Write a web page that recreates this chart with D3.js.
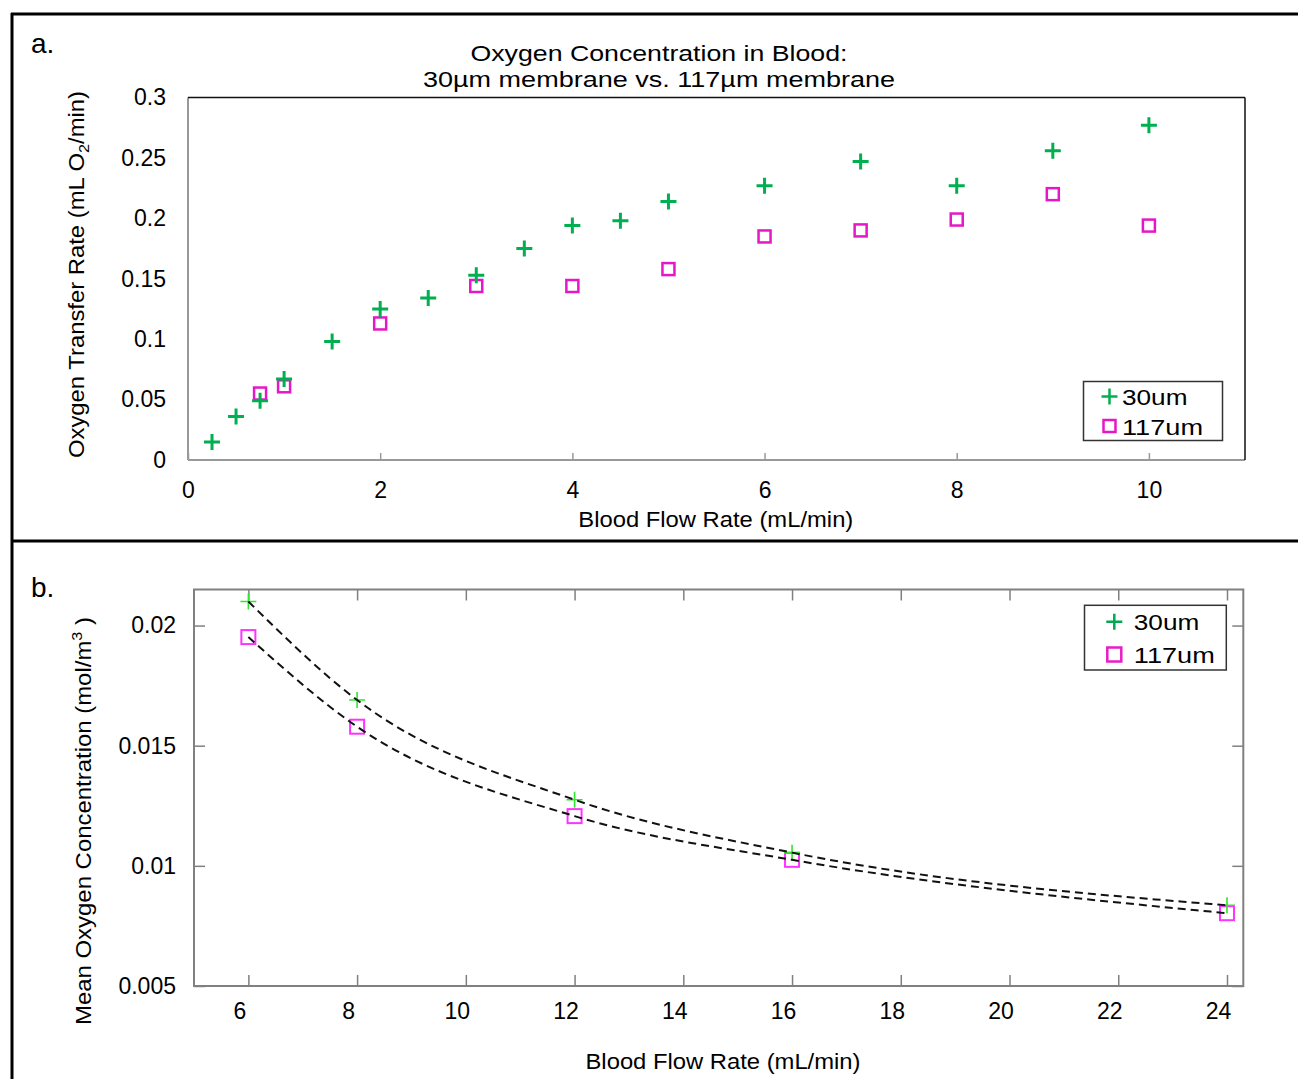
<!DOCTYPE html>
<html>
<head>
<meta charset="utf-8">
<script src="https://cdn.jsdelivr.net/npm/d3@7"></script>
<style>
  body { margin: 0; background: #fff; }
  svg text { font-family: "Liberation Sans", Arial, sans-serif; fill: #000; }
</style>
</head>
<body>
<svg id="chart" width="1298" height="1079"></svg>
<script>
// panel a: oxygen transfer rate vs blood flow
var flowA30 = [0.25, 0.5, 0.75, 1, 1.5, 2, 2.5, 3, 3.5, 4, 4.5, 5, 6, 7, 8, 9, 10];
var rateA30 = [0.015, 0.036, 0.049, 0.067, 0.098, 0.125, 0.134, 0.153, 0.175, 0.194, 0.198, 0.214, 0.227, 0.247, 0.227, 0.256, 0.277];
var flowA117 = [0.75, 1, 2, 3, 4, 5, 6, 7, 8, 9, 10];
var rateA117 = [0.055, 0.061, 0.113, 0.144, 0.144, 0.158, 0.185, 0.190, 0.199, 0.220, 0.194];
var xTicksA = [0, 2, 4, 6, 8, 10];
var yTicksA = [0, 0.05, 0.1, 0.15, 0.2, 0.25, 0.3];

// panel b: mean oxygen concentration vs blood flow
var flowB = [6, 8, 12, 16, 24];
var concB30 = [0.0210, 0.0169, 0.01275, 0.01055, 0.00836];
var concB117 = [0.01952, 0.01579, 0.01207, 0.01025, 0.00803];
var xTicksB = [6, 8, 10, 12, 14, 16, 18, 20, 22, 24];
var yTicksB = [0.005, 0.01, 0.015, 0.02];

var legendNames = ["30um", "117um"];

var svg = d3.select("#chart");
svg.append("rect").attr("width", 1298).attr("height", 1079).attr("fill", "#fff");

// outer panel frame
var frame = svg.append("g").attr("stroke", "#000").attr("stroke-width", 3);
frame.append("line").attr("x1", 11).attr("x2", 1298).attr("y1", 14).attr("y2", 14);
frame.append("line").attr("x1", 12).attr("x2", 12).attr("y1", 13).attr("y2", 1079);
frame.append("line").attr("x1", 12).attr("x2", 1298).attr("y1", 541).attr("y2", 541);

svg.append("text").attr("x", 31).attr("y", 53).attr("font-size", 28).text("a.");
svg.append("text").attr("x", 31).attr("y", 597).attr("font-size", 28).text("b.");

function plus(g, x, y, r, col, w) {
  g.append("path").attr("d", "M" + (x - r) + "," + y + "h" + (2 * r) + "M" + x + "," + (y - r) + "v" + (2 * r))
    .attr("stroke", col).attr("stroke-width", w).attr("fill", "none");
}
function square(g, x, y, s, col, w) {
  g.append("rect").attr("x", x - s / 2).attr("y", y - s / 2).attr("width", s).attr("height", s)
    .attr("stroke", col).attr("stroke-width", w).attr("fill", "none");
}

// ---------- panel a ----------
var xa = d3.scaleLinear().domain([0, 11]).range([188, 1245]);
var ya = d3.scaleLinear().domain([0, 0.3]).range([460, 97.5]);
var green = "#00b050", pink = "#e617c6";

svg.append("text").attr("x", 659).attr("y", 60.5).attr("font-size", 22).attr("text-anchor", "middle")
  .attr("textLength", 377).attr("lengthAdjust", "spacingAndGlyphs").text("Oxygen Concentration in Blood:");
svg.append("text").attr("x", 659).attr("y", 87).attr("font-size", 22).attr("text-anchor", "middle")
  .attr("textLength", 472).attr("lengthAdjust", "spacingAndGlyphs").text("30\u00b5m membrane vs. 117\u00b5m membrane");

var gxa = svg.append("g").attr("transform", "translate(0,460)")
  .call(d3.axisBottom(xa).tickValues(xTicksA).tickSizeInner(-7).tickSizeOuter(0).tickPadding(22).tickFormat(d3.format("d")));
gxa.select(".domain").remove();
gxa.selectAll("line").attr("stroke", "#999").attr("stroke-width", 1.5);
gxa.selectAll("text").attr("font-size", 23).attr("font-family", null);

var gya = svg.append("g").attr("transform", "translate(188,0)")
  .call(d3.axisLeft(ya).tickValues(yTicksA).tickSize(0).tickPadding(22).tickFormat(function (d) { return String(d); }));
gya.select(".domain").remove();
gya.selectAll("text").attr("font-size", 23).attr("font-family", null);

// plot box: light left/bottom, dark top/right
svg.append("line").attr("x1", 188).attr("x2", 188).attr("y1", 97.5).attr("y2", 460).attr("stroke", "#999").attr("stroke-width", 2);
svg.append("line").attr("x1", 188).attr("x2", 1245).attr("y1", 460).attr("y2", 460).attr("stroke", "#999").attr("stroke-width", 2);
svg.append("line").attr("x1", 188).attr("x2", 1245).attr("y1", 97.5).attr("y2", 97.5).attr("stroke", "#111").attr("stroke-width", 1.5);
svg.append("line").attr("x1", 1245).attr("x2", 1245).attr("y1", 97.5).attr("y2", 460).attr("stroke", "#111").attr("stroke-width", 1.5);

var ma = svg.append("g");
flowA117.forEach(function (f, i) { square(ma, xa(f), ya(rateA117[i]), 12, pink, 2.5); });
flowA30.forEach(function (f, i) { plus(ma, xa(f), ya(rateA30[i]), 8, green, 3); });

svg.append("text").attr("x", 715.8).attr("y", 527).attr("font-size", 22).attr("text-anchor", "middle")
  .attr("textLength", 275).attr("lengthAdjust", "spacingAndGlyphs").text("Blood Flow Rate (mL/min)");

var yla = svg.append("text").attr("transform", "translate(84,274.5) rotate(-90)").attr("font-size", 22)
  .attr("text-anchor", "middle").attr("textLength", 367).attr("lengthAdjust", "spacingAndGlyphs");
yla.append("tspan").text("Oxygen Transfer Rate (mL O");
yla.append("tspan").attr("font-size", 15).attr("dy", 5).text("2");
yla.append("tspan").attr("dy", -5).text("/min)");

// legend a
var la = svg.append("g");
la.append("rect").attr("x", 1083.5).attr("y", 381.5).attr("width", 139).attr("height", 59)
  .attr("fill", "#fff").attr("stroke", "#333").attr("stroke-width", 1.5);
plus(la, 1109.5, 396.5, 8, green, 2.5);
square(la, 1109.5, 426, 12, pink, 2.5);
la.append("text").attr("x", 1122).attr("y", 405).attr("font-size", 22).attr("textLength", 65.5)
  .attr("lengthAdjust", "spacingAndGlyphs").text(legendNames[0]);
la.append("text").attr("x", 1122).attr("y", 435).attr("font-size", 22).attr("textLength", 81)
  .attr("lengthAdjust", "spacingAndGlyphs").text(legendNames[1]);

// ---------- panel b ----------
var xb = d3.scaleLinear().domain([5, 24.3]).range([194, 1243.3]);
var yb = d3.scaleLinear().domain([0.005, 0.0215]).range([986, 589.5]);
var boxCol = "#808080";

var gxb = svg.append("g").attr("transform", "translate(0,986)")
  .call(d3.axisBottom(xb).tickValues(xTicksB).tickSizeInner(-11).tickSizeOuter(0).tickPadding(17).tickFormat(d3.format("d")));
gxb.select(".domain").remove();
gxb.selectAll("line").attr("stroke", boxCol).attr("stroke-width", 1.5);
gxb.selectAll("text").attr("font-size", 23).attr("font-family", null).attr("dx", -9);

var gxt = svg.append("g").attr("transform", "translate(0,589.5)")
  .call(d3.axisTop(xb).tickValues(xTicksB).tickSizeInner(-11).tickSizeOuter(0).tickFormat(""));
gxt.select(".domain").remove();
gxt.selectAll("line").attr("stroke", boxCol).attr("stroke-width", 1.5);

var gyb = svg.append("g").attr("transform", "translate(194,0)")
  .call(d3.axisLeft(yb).tickValues(yTicksB).tickSizeInner(-11).tickSizeOuter(0).tickPadding(18)
    .tickFormat(function (d) { return String(d); }));
gyb.select(".domain").remove();
gyb.selectAll("line").attr("stroke", boxCol).attr("stroke-width", 1.5);
gyb.selectAll("text").attr("font-size", 23).attr("font-family", null);

var gyr = svg.append("g").attr("transform", "translate(1243.3,0)")
  .call(d3.axisRight(yb).tickValues(yTicksB).tickSizeInner(-11).tickSizeOuter(0).tickFormat(""));
gyr.select(".domain").remove();
gyr.selectAll("line").attr("stroke", boxCol).attr("stroke-width", 1.5);

svg.append("rect").attr("x", 194).attr("y", 589.5).attr("width", 1243.3 - 194).attr("height", 986 - 589.5)
  .attr("fill", "none").attr("stroke", boxCol).attr("stroke-width", 2);

var mb = svg.append("g");
flowB.forEach(function (f, i) { square(mb, xb(f), yb(concB117[i]), 14, "#ff33ff", 2); });
flowB.forEach(function (f, i) { plus(mb, xb(f), yb(concB30[i]), 8, "#2ee82e", 1.6); });

var line = d3.line().x(function (d) { return xb(d[0]); }).y(function (d) { return yb(d[1]); }).curve(d3.curveMonotoneX);
[concB30, concB117].forEach(function (s) {
  svg.append("path").attr("d", line(flowB.map(function (f, i) { return [f, s[i]]; })))
    .attr("fill", "none").attr("stroke", "#111").attr("stroke-width", 2).attr("stroke-dasharray", "8,5");
});

svg.append("text").attr("x", 723).attr("y", 1069).attr("font-size", 22).attr("text-anchor", "middle")
  .attr("textLength", 275).attr("lengthAdjust", "spacingAndGlyphs").text("Blood Flow Rate (mL/min)");

var ylb = svg.append("text").attr("transform", "translate(91,821) rotate(-90)").attr("font-size", 22)
  .attr("text-anchor", "middle").attr("textLength", 408).attr("lengthAdjust", "spacingAndGlyphs");
ylb.append("tspan").text("Mean Oxygen Concentration (mol/m");
ylb.append("tspan").attr("font-size", 15).attr("dy", -9).text("3");
ylb.append("tspan").attr("dy", 9).text(" )");

// legend b
var lb = svg.append("g");
lb.append("rect").attr("x", 1084.5).attr("y", 605.3).attr("width", 141.8).attr("height", 64.7)
  .attr("fill", "#fff").attr("stroke", "#333").attr("stroke-width", 1.5);
plus(lb, 1114.3, 621.8, 8, "#00a84f", 2.5);
square(lb, 1114.3, 654.5, 14, "#e81cc8", 2.5);
lb.append("text").attr("x", 1133.8).attr("y", 630).attr("font-size", 22).attr("textLength", 65.5)
  .attr("lengthAdjust", "spacingAndGlyphs").text(legendNames[0]);
lb.append("text").attr("x", 1133.8).attr("y", 662.5).attr("font-size", 22).attr("textLength", 81)
  .attr("lengthAdjust", "spacingAndGlyphs").text(legendNames[1]);
</script>
</body>
</html>
